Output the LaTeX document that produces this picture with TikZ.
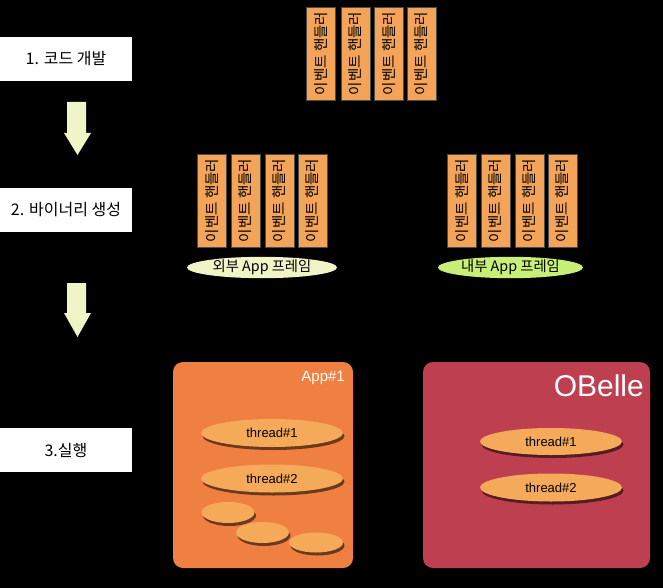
\documentclass[tikz,border=0pt]{standalone}
\usepackage{fontspec}
\setmainfont{Liberation Sans}
\newfontfamily\kr{Noto Sans CJK KR}
\usetikzlibrary{shapes.geometric,shadows}
\definecolor{barorange}{RGB}{244,164,88}
\definecolor{arrowyellow}{RGB}{240,245,200}
\definecolor{cream}{RGB}{240,245,200}
\definecolor{lgreen}{RGB}{200,240,120}
\definecolor{appfill}{RGB}{240,128,66}
\definecolor{obfill}{RGB}{190,64,80}
\definecolor{thfill}{RGB}{245,170,90}
\tikzset{
  stagebox/.style={fill=white, draw=none, minimum width=132pt, minimum height=44pt, inner sep=0pt, font=\kr\fontsize{16}{18}\selectfont},
  handler/.style={draw=black!70, line width=0.6pt, fill=barorange, rotate=90, minimum width=93pt, minimum height=29pt, inner sep=0pt, font=\kr\fontsize{14.5}{16}\selectfont},
  framelbl/.style={ellipse, draw=none, inner sep=0pt, font=\kr\fontsize{14.3}{16}\selectfont},
  procbox/.style={rounded corners=10pt, draw=none},
  thread/.style={ellipse, fill=thfill, draw=none, inner sep=0pt, font=\fontsize{13}{15}\selectfont,
    drop shadow={shadow xshift=1.5pt, shadow yshift=-3pt, opacity=0.55, fill=black}},
  blockarrow/.style={fill=arrowyellow, draw=none}
}
\begin{document}
\begin{tikzpicture}[x=1pt,y=-1pt]
\fill[black] (0,0) rectangle (663,588);
\useasboundingbox (0,0) rectangle (663,588);

% stage boxes
\node[stagebox] (s1) at (66,59) {1. 코드 개발};
\node[stagebox] (s2) at (66,210) {2. 바이너리 생성};
\node[stagebox] (s3) at (66,450) {3.실행};

% block arrows
\fill[blockarrow] (67,102) -- (86,102) -- (86,133) -- (91,133) -- (77.5,155) -- (64,133) -- (67,133) -- cycle;
\fill[blockarrow] (67,283) -- (86,283) -- (86,313) -- (91,313) -- (77.5,337) -- (64,313) -- (67,313) -- cycle;

% top handlers
\node[handler] (t1) at (321,53.5) {이벤트 핸들러};
\node[handler] (t2) at (355.5,53.5) {이벤트 핸들러};
\node[handler] (t3) at (389,53.5) {이벤트 핸들러};
\node[handler] (t4) at (421.5,53.5) {이벤트 핸들러};

% external frame handlers
\node[handler] (e1) at (212,200.5) {이벤트 핸들러};
\node[handler] (e2) at (245.5,200.5) {이벤트 핸들러};
\node[handler] (e3) at (279.5,200.5) {이벤트 핸들러};
\node[handler] (e4) at (312.5,200.5) {이벤트 핸들러};
\node[framelbl, fill=cream, minimum width=150pt, minimum height=19pt] (ef) at (262,267.5) {외부 App 프레임};

% internal frame handlers
\node[handler] (i1) at (462,200.5) {이벤트 핸들러};
\node[handler] (i2) at (495.5,200.5) {이벤트 핸들러};
\node[handler] (i3) at (529.5,200.5) {이벤트 핸들러};
\node[handler] (i4) at (562.5,200.5) {이벤트 핸들러};
\node[framelbl, fill=lgreen, minimum width=145pt, minimum height=19pt] (inf) at (510.5,267.5) {내부 App 프레임};

% App#1 process
\fill[procbox, appfill] (173,362) rectangle (353,568);
\node[text=white, font=\fontsize{15}{17}\selectfont, anchor=east, inner sep=0pt] (applbl) at (345,378) {App\#1};
\node[thread, minimum width=142pt, minimum height=28pt] (a1) at (272,433) {thread\#1};
\node[thread, minimum width=142pt, minimum height=28pt] (a2) at (272,478.5) {thread\#2};
\node[thread, minimum width=53pt, minimum height=21pt] (a3) at (228,512.5) {};
\node[thread, minimum width=53pt, minimum height=21pt] (a4) at (262.5,532.5) {};
\node[thread, minimum width=54pt, minimum height=20pt] (a5) at (316,542.5) {};

% OBelle process
\fill[procbox, obfill] (423,362) rectangle (650,568);
\node[text=white, font=\fontsize{30}{32}\selectfont, anchor=east, inner sep=0pt] (oblbl) at (644,386) {OBelle};
\node[thread, minimum width=142pt, minimum height=27pt] (o1) at (551,441.5) {thread\#1};
\node[thread, minimum width=142pt, minimum height=28pt] (o2) at (551,487.5) {thread\#2};
\end{tikzpicture}
\end{document}
